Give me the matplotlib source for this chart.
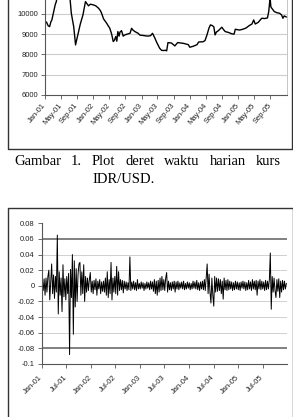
import matplotlib
matplotlib.use("Agg")
import matplotlib.pyplot as plt
from matplotlib.lines import Line2D
import pandas as pd

kurs_dates = [
    "2001-01-02", "2001-01-12", "2001-01-24", "2001-02-05", "2001-02-14", "2001-02-22",
    "2001-03-05", "2001-03-14", "2001-03-19", "2001-03-27", "2001-04-05", "2001-04-20",
    "2001-05-02", "2001-05-20", "2001-06-10", "2001-06-28", "2001-07-10", "2001-07-19",
    "2001-08-06", "2001-08-15", "2001-08-20", "2001-08-28", "2001-09-12", "2001-09-25",
    "2001-10-15", "2001-10-25", "2001-11-03", "2001-11-15", "2001-11-26", "2001-12-10",
    "2001-12-31", "2002-01-20", "2002-02-10", "2002-02-25", "2002-03-05", "2002-03-20",
    "2002-04-12", "2002-04-25", "2002-05-06", "2002-05-20", "2002-06-01", "2002-06-10",
    "2002-06-20", "2002-06-28", "2002-07-06", "2002-07-15", "2002-07-22", "2002-08-03",
    "2002-08-15", "2002-08-28", "2002-09-15", "2002-10-06", "2002-10-18", "2002-10-28",
    "2002-11-12", "2002-12-06", "2002-12-20", "2003-01-15", "2003-02-15", "2003-03-10",
    "2003-03-25", "2003-04-12", "2003-04-25", "2003-05-18", "2003-06-01", "2003-06-15",
    "2003-07-01", "2003-07-10", "2003-07-20", "2003-08-15", "2003-09-10", "2003-10-01",
    "2003-11-15", "2003-12-20", "2004-01-01", "2004-01-28", "2004-02-25", "2004-03-08",
    "2004-04-10", "2004-04-25", "2004-05-10", "2004-05-25", "2004-06-05", "2004-06-20",
    "2004-07-01", "2004-07-10", "2004-07-20", "2004-08-05", "2004-08-30", "2004-09-15",
    "2004-09-25", "2004-10-20", "2004-11-15", "2004-12-01", "2004-12-10", "2005-01-10",
    "2005-02-05", "2005-03-01", "2005-03-25", "2005-04-15", "2005-04-28", "2005-05-10",
    "2005-06-01", "2005-06-28", "2005-07-20", "2005-08-10", "2005-08-20", "2005-08-30",
    "2005-09-05", "2005-09-12", "2005-10-01", "2005-10-20", "2005-11-10", "2005-11-25",
    "2005-12-05", "2005-12-15", "2005-12-30",
]
kurs_values = [
    9550, 9600, 9420, 9370, 9600, 9700,
    10030, 10300, 10450, 10600, 10900, 11800,
    11500, 11200, 11400, 11300, 10700, 10030,
    9370, 8800, 8465, 8700, 9125, 9500,
    9950, 10300, 10610, 10500, 10400, 10480,
    10450, 10400, 10280, 10150, 10030, 9750,
    9540, 9400, 9290, 9000, 8630, 8700,
    8880, 8650, 9125, 8900, 9100, 9170,
    8900, 8960, 9000, 9040, 9290, 9200,
    9125, 9040, 8950, 8930, 8900, 8920,
    9040, 8800, 8600, 8300, 8200, 8185,
    8200, 8170, 8580, 8560, 8415, 8580,
    8540, 8480, 8350, 8400, 8480, 8610,
    8620, 8680, 8960, 9300, 9455, 9420,
    9350, 8960, 9100, 9175, 9340, 9200,
    9125, 9080, 9010, 9000, 9240, 9200,
    9240, 9300, 9420, 9500, 9700, 9500,
    9580, 9785, 9770, 9800, 10115, 10800,
    10350, 10280, 10115, 10060, 10030, 9950,
    9785, 9900, 9850,
]
kurs_ticks = ["Jan-01", "May-01", "Sep-01", "Jan-02", "May-02", "Sep-02", "Jan-03",
              "May-03", "Sep-03", "Jan-04", "May-04", "Sep-04", "Jan-05", "May-05", "Sep-05"]
kurs_yticks = [6000, 7000, 8000, 9000, 10000]

# returns, one value per week starting 2001-01-05 (one row per quarter)
ret_start = "2001-01-05"
returns = [
    0.004, -0.006, 0.009, -0.012, 0.010, -0.008, 0.012, 0.020, -0.018, 0.006, 0.028, -0.010, 0.014,
    -0.016, 0.012, -0.008, 0.065, -0.036, 0.018, -0.012, 0.010, -0.033, 0.027, -0.014, 0.009, -0.018,
    0.012, -0.010, 0.016, -0.088, 0.021, -0.015, 0.040, -0.062, 0.032, -0.027, 0.022, -0.020, 0.015,
    0.028, 0.030, -0.012, 0.018, -0.010, 0.027, -0.020, 0.012, -0.008, 0.010, -0.006, 0.008, 0.017,
    -0.008, 0.006, -0.010, 0.007, -0.005, 0.009, -0.012, 0.006, -0.004, 0.008, -0.010, 0.005, -0.007,
    0.006, -0.008, 0.010, -0.012, 0.018, -0.015, 0.008, -0.010, 0.030, -0.018, 0.010, -0.008, 0.012,
    -0.010, 0.025, -0.012, 0.018, -0.006, 0.008, -0.005, 0.007, -0.009, 0.006, -0.004, 0.005, -0.006,
    0.004, -0.005, 0.037, -0.006, 0.005, -0.004, 0.006, -0.005, 0.004, -0.006, 0.008, -0.004, 0.003,
    -0.004, 0.005, -0.003, 0.004, -0.006, 0.003, -0.004, 0.005, -0.003, 0.004, -0.005, 0.006, -0.004,
    0.005, -0.007, 0.008, -0.010, 0.006, -0.012, 0.007, -0.008, 0.010, -0.006, 0.012, -0.005, 0.008,
    -0.006, 0.010, 0.017, -0.008, 0.006, -0.005, 0.004, -0.006, 0.005, -0.004, 0.006, -0.008, 0.005,
    -0.004, 0.006, -0.005, 0.004, -0.003, 0.005, -0.004, 0.006, -0.005, 0.003, -0.004, 0.005, -0.003,
    0.004, -0.005, 0.003, -0.004, 0.006, -0.003, 0.005, -0.004, 0.007, -0.005, 0.004, -0.006, 0.005,
    -0.004, 0.006, -0.005, 0.008, -0.006, 0.012, 0.028, -0.010, 0.015, -0.008, -0.022, 0.010, -0.012,
    -0.026, 0.012, -0.008, 0.010, -0.007, 0.009, -0.006, 0.008, -0.010, 0.006, -0.017, 0.010, -0.005,
    0.007, -0.006, 0.008, -0.005, 0.006, -0.004, 0.005, -0.006, 0.004, -0.005, 0.006, -0.004, 0.005,
    -0.005, 0.004, -0.006, 0.005, -0.003, 0.006, -0.004, 0.005, -0.006, 0.004, -0.005, 0.007, -0.004,
    0.005, -0.006, 0.008, -0.004, 0.006, -0.005, 0.007, -0.012, 0.006, -0.004, 0.008, -0.005, 0.006,
    -0.004, 0.005, -0.006, 0.007, -0.005, 0.006, -0.004, 0.008, 0.042, -0.030, 0.012, -0.008, 0.010,
    -0.006, -0.015, 0.008, -0.007, 0.009, -0.015, 0.006, -0.008, 0.007, -0.005, 0.006, -0.004, 0.003,
]
ret_ticks = ["Jan-01", "Jul-01", "Jan-02", "Jul-02", "Jan-03", "Jul-03", "Jan-04",
             "Jul-04", "Jan-05", "Jul-05"]
ret_yticks = [0.08, 0.06, 0.04, 0.02, 0, -0.02, -0.04, -0.06, -0.08, -0.1]
ret_ylabels = ["0.08", "0.06", "0.04", "0.02", "0", "-0.02", "-0.04", "-0.06", "-0.08", "-0.1"]

caption_line1 = ["Gambar", "1.", "Plot", "deret", "waktu", "harian", "kurs"]
caption_line2 = "IDR/USD."

W, H = 293, 417
fig = plt.figure(figsize=(W / 100, H / 100), dpi=100)
fig.patch.set_facecolor("white")


def px_box(x0, y0, x1, y1):
    # pixel box (top-left origin) -> figure fraction rect
    return [x0 / W, 1 - y1 / H, (x1 - x0) / W, (y1 - y0) / H]


def frame_line(xs, ys, color="#333333", lw=1.0):
    fig.add_artist(Line2D([x / W for x in xs], [1 - y / H for y in ys],
                          color=color, lw=lw, transform=fig.transFigure))


tick_font = dict(family="Liberation Sans", size=5.5, color="#222222")


def excel_style(ax):
    for s in ["top", "right"]:
        ax.spines[s].set_visible(False)
    for s in ["left", "bottom"]:
        ax.spines[s].set_color("#555555")
        ax.spines[s].set_linewidth(0.8)
    ax.tick_params(direction="out", length=3, width=0.6, color="#555555", pad=2)
    ax.set_axisbelow(True)


# --- chart 1: exchange rate ---
ax1 = fig.add_axes(px_box(45, 94.7 - 6 * 20.2, 287, 94.7))
ax1.plot(pd.to_datetime(kurs_dates), kurs_values, color="black", lw=1.0)
ax1.set_ylim(6000, 12000)
ax1.set_xlim(pd.Timestamp("2001-01-01"), pd.Timestamp("2006-01-05"))
ax1.set_yticks(kurs_yticks)
ax1.set_yticklabels([str(v) for v in kurs_yticks], fontdict=tick_font)
ax1.set_xticks(pd.to_datetime(kurs_ticks, format="%b-%y"))
ax1.set_xticklabels(kurs_ticks, fontdict=tick_font, rotation=50, ha="right",
                    va="center", rotation_mode="anchor")
excel_style(ax1)
ax1.tick_params(axis="x", pad=4)
ax1.spines["right"].set_visible(True)
ax1.spines["right"].set_color("#bbbbbb")
ax1.spines["right"].set_linewidth(0.6)
for v in kurs_yticks[1:] + [11000]:
    ax1.axhline(v, color="#cccccc", lw=0.8, zorder=0)

frame_line([7.5, 7.5, 292.3, 292.3], [-2, 149, 149, -2])

# --- caption (first line justified between x=14 and x=281) ---
cap_font = dict(family="Liberation Serif", size=10.5)
words = [fig.text(0, 1 - 161.7 / H, w, va="center", ha="left", **cap_font)
         for w in caption_line1]
renderer = fig.canvas.get_renderer()
widths = [t.get_window_extent(renderer).width for t in words]
gap = (281 - 14 - sum(widths)) / (len(words) - 1)
x = 14
word_left = []
for t, w in zip(words, widths):
    t.set_x(x / W)
    word_left.append(x)
    x += w + gap
fig.text(word_left[2] / W, 1 - 179.3 / H, caption_line2, va="center", ha="left",
         **cap_font)

# --- chart 2: returns ---
ax2 = fig.add_axes(px_box(41.7, 223.3, 287, 364))
ret_dates = pd.date_range(ret_start, periods=len(returns), freq="7D")
ax2.plot(ret_dates, returns, color="black", lw=0.7)
ax2.set_ylim(-0.1, 0.08)
ax2.set_xlim(pd.Timestamp("2001-01-01"), pd.Timestamp("2005-12-28"))
ax2.set_yticks(ret_yticks)
ax2.set_yticklabels(ret_ylabels, fontdict=tick_font)
ax2.set_xticks(pd.to_datetime(ret_ticks, format="%b-%y"))
ax2.set_xticklabels(ret_ticks, fontdict=tick_font, rotation=45, ha="right",
                    va="center", rotation_mode="anchor")
excel_style(ax2)
ax2.tick_params(axis="x", pad=6)
for v in ret_yticks[1:-1]:
    if v in (0.06, -0.08):
        ax2.axhline(v, color="#808080", lw=1.4, zorder=0)
    else:
        ax2.axhline(v, color="#d0d0d0", lw=0.7, zorder=0)

frame_line([8, 8, 292.5, 292.5], [420, 207.5, 207.5, 420])

fig.savefig("out.png", dpi=100)
